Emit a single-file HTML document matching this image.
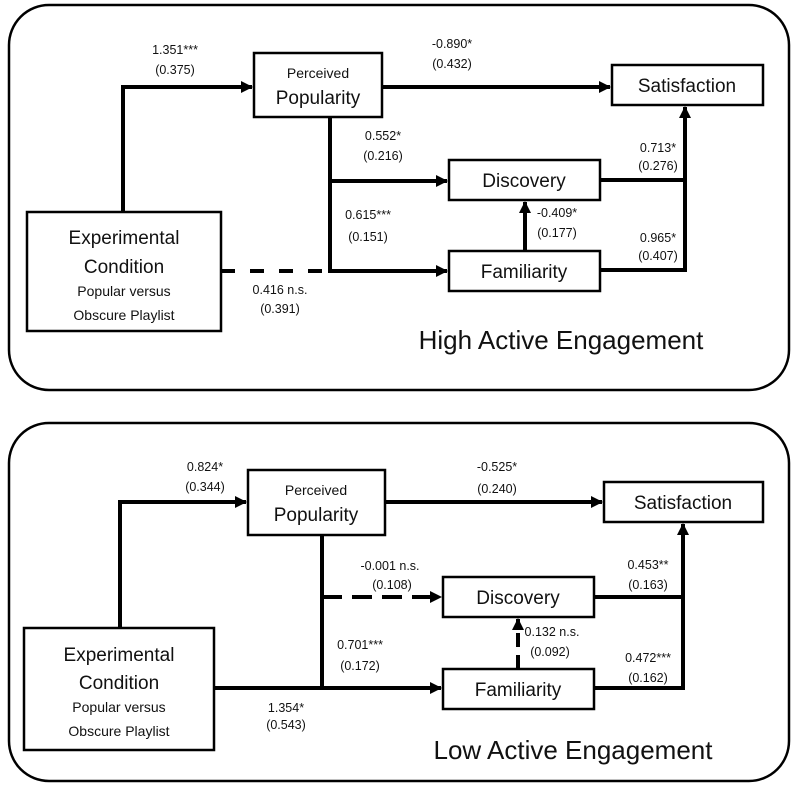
<!DOCTYPE html>
<html><head><meta charset="utf-8"><style>
html,body{margin:0;padding:0;background:#fff}
svg{display:block}
text{font-family:"Liberation Sans",sans-serif;fill:#111}
.s{font-size:12.5px;text-anchor:middle}
.b{font-size:19px;text-anchor:middle}
.m{font-size:14px;text-anchor:middle}
</style></head><body>
<svg width="798" height="790" viewBox="0 0 798 790">
<defs><marker id="a2" markerWidth="12" markerHeight="12" refX="11" refY="6" orient="auto" markerUnits="userSpaceOnUse"><path d="M0,0 L12,6 L0,12 z" fill="#000"/></marker></defs>
<g fill="none" stroke="#000" stroke-width="2.5">
<rect x="9" y="5" width="780" height="385" rx="40"/>
<rect x="9" y="423" width="780" height="358" rx="40"/>
</g>
<g fill="#fff" stroke="#000" stroke-width="2.5">
<rect x="254" y="53" width="128" height="64"/>
<rect x="612" y="65" width="151" height="40"/>
<rect x="449" y="160" width="151" height="40"/>
<rect x="449" y="251" width="151" height="40"/>
<rect x="27" y="212" width="194" height="119"/>
<rect x="248" y="470" width="137" height="65"/>
<rect x="604" y="482" width="159" height="40"/>
<rect x="443" y="577" width="151" height="40"/>
<rect x="443" y="669" width="151" height="40"/>
<rect x="24" y="628" width="190" height="122"/>
</g>
<g fill="none" stroke="#000" stroke-width="4">
<path d="M123,212 V87 H252" marker-end="url(#a2)"/>
<path d="M382,87 H610" marker-end="url(#a2)"/>
<path d="M330,117 V271 H447" marker-end="url(#a2)"/>
<path d="M330,181 H447" marker-end="url(#a2)"/>
<path d="M221,271 H330" stroke-dasharray="14,15"/>
<path d="M525,251 V202" marker-end="url(#a2)"/>
<path d="M600,180 H685 M600,270 H685 V107" marker-end="url(#a2)"/>
<path d="M120,628 V502 H246" marker-end="url(#a2)"/>
<path d="M385,502 H602" marker-end="url(#a2)"/>
<path d="M322,535 V688"/>
<path d="M322,597 H441" stroke-dasharray="20,10" marker-end="url(#a2)"/>
<path d="M214,688 H441" marker-end="url(#a2)"/>
<path d="M518,669 V619" stroke-dasharray="14,8" marker-end="url(#a2)"/>
<path d="M594,597 H683 M594,688 H683 V524" marker-end="url(#a2)"/>
</g>
<text class="m" x="318" y="78">Perceived</text>
<text class="b" x="318" y="104">Popularity</text>
<text class="b" x="687" y="92">Satisfaction</text>
<text class="b" x="524" y="187">Discovery</text>
<text class="b" x="524" y="278">Familiarity</text>
<text class="b" x="124" y="244">Experimental</text>
<text class="b" x="124" y="273">Condition</text>
<text class="m" x="124" y="296">Popular versus</text>
<text class="m" x="124" y="320">Obscure Playlist</text>
<text class="s" x="175" y="54">1.351***</text><text class="s" x="175" y="74">(0.375)</text>
<text class="s" x="452" y="48">-0.890*</text><text class="s" x="452" y="68">(0.432)</text>
<text class="s" x="383" y="140">0.552*</text><text class="s" x="383" y="160">(0.216)</text>
<text class="s" x="368" y="219">0.615***</text><text class="s" x="368" y="241">(0.151)</text>
<text class="s" x="557" y="217">-0.409*</text><text class="s" x="557" y="237">(0.177)</text>
<text class="s" x="658" y="152">0.713*</text><text class="s" x="658" y="170">(0.276)</text>
<text class="s" x="658" y="242">0.965*</text><text class="s" x="658" y="260">(0.407)</text>
<text class="s" x="280" y="294">0.416 n.s.</text><text class="s" x="280" y="313">(0.391)</text>
<text x="561" y="349" style="font-size:26px;text-anchor:middle">High Active Engagement</text>

<text class="m" x="316" y="495">Perceived</text>
<text class="b" x="316" y="521">Popularity</text>
<text class="b" x="683" y="509">Satisfaction</text>
<text class="b" x="518" y="604">Discovery</text>
<text class="b" x="518" y="696">Familiarity</text>
<text class="b" x="119" y="661">Experimental</text>
<text class="b" x="119" y="689">Condition</text>
<text class="m" x="119" y="712">Popular versus</text>
<text class="m" x="119" y="736">Obscure Playlist</text>
<text class="s" x="205" y="471">0.824*</text><text class="s" x="205" y="491">(0.344)</text>
<text class="s" x="497" y="471">-0.525*</text><text class="s" x="497" y="493">(0.240)</text>
<text class="s" x="390" y="570">-0.001 n.s.</text><text class="s" x="392" y="589">(0.108)</text>
<text class="s" x="360" y="649">0.701***</text><text class="s" x="360" y="670">(0.172)</text>
<text class="s" x="552" y="636">0.132 n.s.</text><text class="s" x="550" y="656">(0.092)</text>
<text class="s" x="648" y="569">0.453**</text><text class="s" x="648" y="589">(0.163)</text>
<text class="s" x="648" y="662">0.472***</text><text class="s" x="648" y="682">(0.162)</text>
<text class="s" x="286" y="712">1.354*</text><text class="s" x="286" y="729">(0.543)</text>
<text x="573" y="759" style="font-size:26px;text-anchor:middle">Low Active Engagement</text>
</svg>
</body></html>
